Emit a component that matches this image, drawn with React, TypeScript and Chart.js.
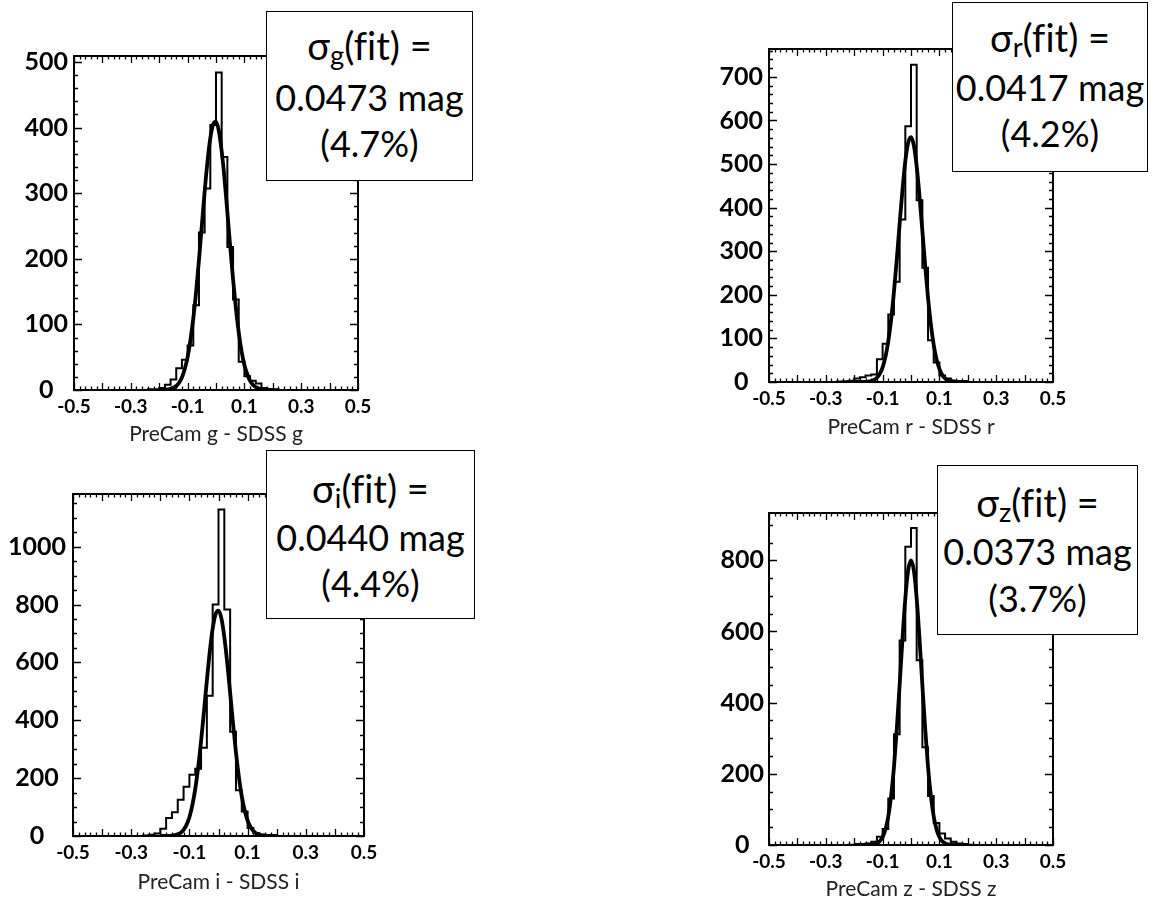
import React, { useEffect, useRef } from 'react';
import { Chart, registerables } from 'chart.js';

Chart.register(...registerables);

// ---------- data ----------
// histogram bin edges shared by all four panels (bins of 0.02 around the peak)
const binEdges = [
  -0.5, -0.26, -0.24, -0.22, -0.2, -0.18, -0.16, -0.14, -0.12, -0.1, -0.08, -0.06, -0.04, -0.02,
  0, 0.02, 0.04, 0.06, 0.08, 0.1, 0.12, 0.14, 0.16, 0.18, 0.2, 0.22, 0.5,
];
// counts per bin (26 bins)
const gCounts = [0, 0, 1, 1, 3, 8, 16, 33, 46, 68, 129, 240, 307, 404, 484, 355, 218, 138, 43, 21, 14, 10, 3, 1, 1, 0];
const rCounts = [0, 1, 2, 3, 8, 11, 15, 17, 52, 88, 155, 230, 373, 587, 728, 417, 262, 96, 45, 15, 8, 3, 1, 1, 0, 0];
const iCounts = [0, 2, 4, 9, 25, 62, 82, 125, 170, 212, 232, 305, 485, 800, 1128, 783, 360, 158, 85, 28, 10, 4, 2, 1, 0, 0];
const zCounts = [0, 0, 0, 1, 1, 2, 4, 9, 23, 45, 131, 311, 575, 838, 891, 519, 275, 138, 62, 32, 18, 9, 4, 2, 1, 0];

// fitted curves
const curveX = [
  -0.2, -0.18, -0.16, -0.14, -0.13, -0.12, -0.11, -0.1, -0.09, -0.08, -0.07, -0.06, -0.05, -0.04, -0.03, -0.02, -0.01,
  0, 0.01, 0.02, 0.03, 0.04, 0.05, 0.06, 0.07, 0.08, 0.09, 0.1, 0.11, 0.12, 0.13, 0.14, 0.16, 0.18, 0.2,
];
const gFit = [0, 0.4, 1.7, 6.2, 11, 19, 32, 50, 76, 109, 150, 198, 250, 302, 348, 384, 405, 409, 395, 364, 322, 271, 219, 169, 125, 88, 59, 38, 24, 14, 8, 4.3, 1.1, 0.2, 0];
const rFit = [0, 0.1, 0.4, 2.2, 4.7, 9.6, 18.5, 33.6, 57.6, 93.5, 143, 207, 282, 363, 441, 507, 549, 562, 543, 495, 426, 347, 266, 193, 132, 85, 52, 30, 16, 8.3, 4, 1.8, 0.3, 0, 0];
const iFit = [0, 0.2, 1.2, 5.7, 11.3, 21.4, 38.4, 65, 106, 162, 236, 327, 430, 537, 637, 717, 767, 779, 752, 688, 599, 495, 388, 289, 205, 137, 88, 53, 31, 17, 8.7, 4.3, 0.9, 0.2, 0];
const zFit = [0, 0, 0.1, 0.7, 1.8, 4.5, 10.3, 22, 43.5, 80, 137.5, 219, 326, 450, 579, 693, 772, 800, 772, 693, 579, 450, 326, 219, 137.5, 80, 43.5, 22, 10.3, 4.5, 1.8, 0.7, 0.1, 0, 0];

// tick labels
const xTickValues = [-0.5, -0.3, -0.1, 0.1, 0.3, 0.5];
const gYTicks = [0, 100, 200, 300, 400, 500];
const rYTicks = [0, 100, 200, 300, 400, 500, 600, 700];
const iYTicks = [0, 200, 400, 600, 800, 1000];
const zYTicks = [0, 200, 400, 600, 800];

// text
const bands = ['g', 'r', 'i', 'z'];
const sigmaValues = ['0.0473', '0.0417', '0.0440', '0.0373'];
const percentValues = ['4.7%', '4.2%', '4.4%', '3.7%'];
const xTitles = ['PreCam g - SDSS g', 'PreCam r - SDSS r', 'PreCam i - SDSS i', 'PreCam z - SDSS z'];

// ---------- layout ----------
type Panel = {
  counts: number[];
  fit: number[];
  yTicks: number[];
  yMax: number;
  yMinor: number;
  yMajor: number;
  canvas: { left: number; top: number; width: number; height: number };
  pad: { top: number; right: number };
  yWidth: number;
  yPad: number;
  xHeight: number;
  titlePad: number;
  box: { left: number; top: number; width: number; height: number; lines: number[] };
};

const panels: Panel[] = [
  {
    counts: gCounts, fit: gFit, yTicks: gYTicks, yMax: 509, yMinor: 20, yMajor: 100,
    canvas: { left: 0, top: 0, width: 400, height: 450 }, pad: { top: 56, right: 42 },
    yWidth: 74, yPad: 6, xHeight: 60, titlePad: 3,
    box: { left: 266, top: 11, width: 207, height: 170, lines: [34, 86, 132] },
  },
  {
    counts: rCounts, fit: rFit, yTicks: rYTicks, yMax: 764, yMinor: 20, yMajor: 100,
    canvas: { left: 680, top: 0, width: 420, height: 450 }, pad: { top: 49, right: 47 },
    yWidth: 89, yPad: 6, xHeight: 68, titlePad: 10,
    box: { left: 952, top: 2, width: 196, height: 170, lines: [35, 85, 131] },
  },
  {
    counts: iCounts, fit: iFit, yTicks: iYTicks, yMax: 1182, yMinor: 50, yMajor: 200,
    canvas: { left: 0, top: 450, width: 400, height: 452 }, pad: { top: 44, right: 36 },
    yWidth: 73, yPad: 7, xHeight: 66, titlePad: 7,
    box: { left: 266, top: 450, width: 209, height: 169, lines: [38, 87, 133] },
  },
  {
    counts: zCounts, fit: zFit, yTicks: zYTicks, yMax: 933, yMinor: 50, yMajor: 200,
    canvas: { left: 680, top: 450, width: 420, height: 452 }, pad: { top: 63, right: 47 },
    yWidth: 89, yPad: 5, xHeight: 57, titlePad: 0,
    box: { left: 937, top: 465, width: 201, height: 170, lines: [37, 86, 133] },
  },
];

const FONT = 'Lato, "Open Sans", "DejaVu Sans", sans-serif';

const framePlugin = {
  id: 'rootFrame',
  afterDraw(chart: any, _args: any, opts: any) {
    const { ctx, chartArea: a, scales } = chart;
    const xs = scales.x;
    const ys = scales.y;
    ctx.save();
    ctx.strokeStyle = '#000';
    ctx.lineWidth = 2;
    ctx.strokeRect(a.left, a.top, a.right - a.left, a.bottom - a.top);
    ctx.beginPath();
    ctx.lineWidth = 1.3;
    for (let k = 0; k <= 50; k++) {
      const v = -0.5 + k * 0.02;
      const px = Math.round(xs.getPixelForValue(v)) + 0.5;
      const len = k % 5 === 0 ? 7 : 3.5;
      ctx.moveTo(px, a.bottom);
      ctx.lineTo(px, a.bottom - len);
      ctx.moveTo(px, a.top);
      ctx.lineTo(px, a.top + len);
    }
    const nMinor = Math.floor(ys.max / opts.minor);
    const ratio = Math.round(opts.major / opts.minor);
    for (let k = 0; k <= nMinor; k++) {
      const py = Math.round(ys.getPixelForValue(k * opts.minor)) + 0.5;
      const len = k % ratio === 0 ? 8 : 4;
      ctx.moveTo(a.left, py);
      ctx.lineTo(a.left + len, py);
      ctx.moveTo(a.right, py);
      ctx.lineTo(a.right - len, py);
    }
    ctx.stroke();
    ctx.restore();
  },
};

function HistPanel({ p, idx }: { p: Panel; idx: number }) {
  const ref = useRef<HTMLCanvasElement | null>(null);
  useEffect(() => {
    if (!ref.current) return;
    const histData = binEdges.map((e, i) => ({ x: e, y: p.counts[Math.min(i, p.counts.length - 1)] }));
    const fitData = curveX.map((x, i) => ({ x, y: p.fit[i] }));
    const chart = new Chart(ref.current, {
      type: 'line',
      data: {
        datasets: [
          {
            data: histData,
            stepped: 'before',
            borderColor: '#000',
            borderWidth: 2,
            pointRadius: 0,
            fill: false,
          },
          {
            data: fitData,
            borderColor: '#000',
            borderWidth: 3.8,
            pointRadius: 0,
            cubicInterpolationMode: 'monotone',
            fill: false,
          },
        ],
      } as any,
      options: {
        animation: false,
        responsive: false,
        devicePixelRatio: 1,
        layout: { padding: { top: p.pad.top, right: p.pad.right, left: 0, bottom: 0 }, autoPadding: false },
        plugins: {
          legend: { display: false },
          tooltip: { enabled: false },
          rootFrame: { minor: p.yMinor, major: p.yMajor },
        } as any,
        scales: {
          x: {
            type: 'linear',
            min: -0.5,
            max: 0.5,
            grid: { display: false, drawTicks: false },
            border: { display: false },
            afterBuildTicks: (s: any) => {
              s.ticks = xTickValues.map((v) => ({ value: v }));
            },
            afterFit: (s: any) => {
              s.height = p.xHeight;
            },
            ticks: {
              autoSkip: false,
              maxRotation: 0,
              minRotation: 0,
              padding: 5,
              color: '#000',
              font: { family: FONT, size: 19, weight: 'bold' },
              callback: (v: any) => Number(v).toFixed(1),
            },
            title: {
              display: true,
              text: xTitles[idx],
              color: '#222',
              font: { family: FONT, size: 21 },
              padding: { top: 0, bottom: p.titlePad },
            },
          },
          y: {
            type: 'linear',
            min: 0,
            max: p.yMax,
            grid: { display: false, drawTicks: false },
            border: { display: false },
            afterBuildTicks: (s: any) => {
              s.ticks = p.yTicks.map((v) => ({ value: v }));
            },
            afterFit: (s: any) => {
              s.width = p.yWidth;
            },
            ticks: {
              crossAlign: 'center',
              padding: p.yPad,
              color: '#000',
              font: { family: FONT, size: 25, weight: 'bold' },
              callback: (v: any) => String(v),
            },
          },
        },
      } as any,
      plugins: [framePlugin as any],
    });
    return () => chart.destroy();
  }, [p, idx]);

  return (
    <canvas
      ref={ref}
      width={p.canvas.width}
      height={p.canvas.height}
      style={{
        position: 'absolute',
        left: p.canvas.left,
        top: p.canvas.top,
        width: p.canvas.width,
        height: p.canvas.height,
      }}
    />
  );
}

function FitBox({ p, idx }: { p: Panel; idx: number }) {
  const b = p.box;
  const lineStyle = (center: number): React.CSSProperties => ({
    position: 'absolute',
    left: 0,
    right: 0,
    top: center - 20,
    height: 38,
    lineHeight: '38px',
    textAlign: 'center',
    whiteSpace: 'nowrap',
  });
  return (
    <div
      style={{
        position: 'absolute',
        left: b.left,
        top: b.top,
        width: b.width,
        height: b.height,
        boxSizing: 'border-box',
        border: '1px solid #000',
        background: '#fff',
        fontFamily: FONT,
        fontSize: 36,
        fontVariantLigatures: 'none',
        fontFeatureSettings: '"liga" 0, "clig" 0',
        color: '#000',
        zIndex: 2,
      }}
    >
      <div style={{ ...lineStyle(b.lines[0]), fontSize: 38 }}>
        σ<span style={{ fontSize: '0.72em', verticalAlign: '-0.2em' }}>{bands[idx]}</span>(fit) =
      </div>
      <div style={lineStyle(b.lines[1])}>{sigmaValues[idx]} mag</div>
      <div style={lineStyle(b.lines[2])}>({percentValues[idx]})</div>
    </div>
  );
}

export default function App() {
  return (
    <div
      style={{
        position: 'absolute',
        left: 0,
        top: 0,
        width: 1160,
        height: 902,
        background: '#fff',
        overflow: 'hidden',
      }}
    >
      {panels.map((p, i) => (
        <HistPanel key={'c' + i} p={p} idx={i} />
      ))}
      {panels.map((p, i) => (
        <FitBox key={'b' + i} p={p} idx={i} />
      ))}
    </div>
  );
}
